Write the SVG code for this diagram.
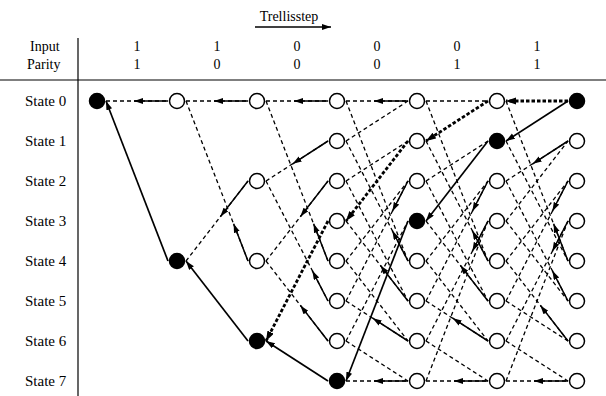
<svg xmlns="http://www.w3.org/2000/svg" width="606" height="396" viewBox="0 0 606 396" font-family="Liberation Serif, Times New Roman, serif">
<style>
text{font-family:"Liberation Serif","Times New Roman",serif;fill:#000}
.lbl{font-size:15px}
.hd{font-size:14px}
.dig{font-size:14px;text-anchor:middle}
.d{stroke:#000;stroke-width:1.3;stroke-dasharray:4 3;fill:none}
.s{stroke:#000;stroke-width:1.5;fill:none;marker-end:url(#ah)}
.p{stroke:#000;stroke-width:1.7;fill:none;marker-end:url(#ah)}
.t{stroke:#000;stroke-width:2.8;stroke-dasharray:3.5 2;fill:none;marker-end:url(#ahb)}
.o{fill:#fff;stroke:#000;stroke-width:1.5}
.f{fill:#000;stroke:#000;stroke-width:1.5}
.rule{stroke:#000;stroke-width:1.2}
</style>
<defs>
<marker id="ah" markerUnits="userSpaceOnUse" markerWidth="10" markerHeight="7" refX="9" refY="3" orient="auto"><path d="M0,0 L9,3 L0,6 z" fill="#000"/></marker>
<marker id="ahb" markerUnits="userSpaceOnUse" markerWidth="11" markerHeight="8" refX="10" refY="3.5" orient="auto"><path d="M0,0 L10,3.5 L0,7 z" fill="#000"/></marker>
</defs>
<g id="header">
<text x="289" y="21" class="hd" text-anchor="middle">Trellisstep</text>
<line x1="255" y1="27" x2="331" y2="27" class="s"/>
<text x="30" y="51" class="hd">Input</text>
<text x="27" y="69" class="hd">Parity</text>
<text x="137" y="51" class="dig">1</text><text x="217" y="51" class="dig">1</text><text x="297" y="51" class="dig">0</text><text x="377" y="51" class="dig">0</text><text x="457" y="51" class="dig">0</text><text x="537" y="51" class="dig">1</text>
<text x="137" y="69" class="dig">1</text><text x="217" y="69" class="dig">0</text><text x="297" y="69" class="dig">0</text><text x="377" y="69" class="dig">0</text><text x="457" y="69" class="dig">1</text><text x="537" y="69" class="dig">1</text>
<line x1="0" y1="80" x2="606" y2="80" class="rule"/>
<line x1="78" y1="38" x2="78" y2="396" class="rule"/>
</g>
<g id="labels" class="lbl">
<text x="25" y="106">State 0</text>
<text x="25" y="146">State 1</text>
<text x="25" y="186">State 2</text>
<text x="25" y="226">State 3</text>
<text x="25" y="266">State 4</text>
<text x="25" y="306">State 5</text>
<text x="25" y="346">State 6</text>
<text x="25" y="386">State 7</text>
</g>
<g id="connectors">
<line class="d" x1="106" y1="101" x2="168" y2="101"/>
<line class="d" x1="186" y1="101" x2="248" y2="101"/>
<line class="d" x1="186" y1="101" x2="248" y2="261"/>
<line class="d" x1="186" y1="261" x2="248" y2="181"/>
<line class="d" x1="266" y1="101" x2="328" y2="101"/>
<line class="d" x1="266" y1="101" x2="328" y2="261"/>
<line class="d" x1="266" y1="181" x2="328" y2="141"/>
<line class="d" x1="266" y1="181" x2="328" y2="301"/>
<line class="d" x1="266" y1="261" x2="328" y2="181"/>
<line class="d" x1="266" y1="261" x2="328" y2="341"/>
<line class="d" x1="346" y1="101" x2="408" y2="101"/>
<line class="d" x1="346" y1="101" x2="408" y2="261"/>
<line class="d" x1="346" y1="141" x2="408" y2="101"/>
<line class="d" x1="346" y1="141" x2="408" y2="261"/>
<line class="d" x1="346" y1="181" x2="408" y2="141"/>
<line class="d" x1="346" y1="181" x2="408" y2="301"/>
<line class="d" x1="346" y1="221" x2="408" y2="301"/>
<line class="d" x1="346" y1="261" x2="408" y2="181"/>
<line class="d" x1="346" y1="261" x2="408" y2="341"/>
<line class="d" x1="346" y1="301" x2="408" y2="181"/>
<line class="d" x1="346" y1="301" x2="408" y2="341"/>
<line class="d" x1="346" y1="341" x2="408" y2="221"/>
<line class="d" x1="346" y1="341" x2="408" y2="381"/>
<line class="d" x1="346" y1="381" x2="408" y2="381"/>
<line class="d" x1="426" y1="101" x2="488" y2="101"/>
<line class="d" x1="426" y1="101" x2="488" y2="261"/>
<line class="d" x1="426" y1="141" x2="488" y2="261"/>
<line class="d" x1="426" y1="181" x2="488" y2="141"/>
<line class="d" x1="426" y1="181" x2="488" y2="301"/>
<line class="d" x1="426" y1="221" x2="488" y2="301"/>
<line class="d" x1="426" y1="261" x2="488" y2="181"/>
<line class="d" x1="426" y1="261" x2="488" y2="341"/>
<line class="d" x1="426" y1="301" x2="488" y2="181"/>
<line class="d" x1="426" y1="301" x2="488" y2="341"/>
<line class="d" x1="426" y1="341" x2="488" y2="221"/>
<line class="d" x1="426" y1="341" x2="488" y2="381"/>
<line class="d" x1="426" y1="381" x2="488" y2="221"/>
<line class="d" x1="426" y1="381" x2="488" y2="381"/>
<line class="d" x1="506" y1="101" x2="568" y2="261"/>
<line class="d" x1="506" y1="141" x2="568" y2="261"/>
<line class="d" x1="506" y1="181" x2="568" y2="141"/>
<line class="d" x1="506" y1="181" x2="568" y2="301"/>
<line class="d" x1="506" y1="221" x2="568" y2="141"/>
<line class="d" x1="506" y1="221" x2="568" y2="301"/>
<line class="d" x1="506" y1="261" x2="568" y2="181"/>
<line class="d" x1="506" y1="261" x2="568" y2="341"/>
<line class="d" x1="506" y1="301" x2="568" y2="181"/>
<line class="d" x1="506" y1="301" x2="568" y2="341"/>
<line class="d" x1="506" y1="341" x2="568" y2="221"/>
<line class="d" x1="506" y1="341" x2="568" y2="381"/>
<line class="d" x1="506" y1="381" x2="568" y2="221"/>
<line class="d" x1="506" y1="381" x2="568" y2="381"/>
<line class="s" x1="168" y1="101" x2="134" y2="101"/>
<line class="s" x1="248" y1="101" x2="214" y2="101"/>
<line class="s" x1="248" y1="181" x2="220.4" y2="216.6"/>
<line class="s" x1="248" y1="261" x2="233.6" y2="223.7"/>
<line class="s" x1="328" y1="101" x2="294" y2="101"/>
<line class="s" x1="328" y1="141" x2="292.7" y2="163.8"/>
<line class="s" x1="328" y1="181" x2="300.4" y2="216.6"/>
<line class="s" x1="328" y1="261" x2="313.6" y2="223.7"/>
<line class="s" x1="328" y1="301" x2="312.4" y2="270.8"/>
<line class="s" x1="328" y1="341" x2="300.4" y2="305.4"/>
<line class="s" x1="408" y1="101" x2="374" y2="101"/>
<line class="s" x1="408" y1="181" x2="392.4" y2="211.2"/>
<line class="s" x1="408" y1="261" x2="392.4" y2="230.8"/>
<line class="s" x1="408" y1="301" x2="380.4" y2="265.4"/>
<line class="s" x1="408" y1="341" x2="372.7" y2="318.2"/>
<line class="s" x1="408" y1="381" x2="374" y2="381"/>
<line class="s" x1="488" y1="181" x2="472.4" y2="211.2"/>
<line class="s" x1="488" y1="221" x2="472.4" y2="251.2"/>
<line class="s" x1="488" y1="261" x2="472.4" y2="230.8"/>
<line class="s" x1="488" y1="301" x2="460.4" y2="265.4"/>
<line class="s" x1="488" y1="341" x2="452.7" y2="318.2"/>
<line class="s" x1="488" y1="381" x2="454" y2="381"/>
<line class="s" x1="568" y1="141" x2="532.7" y2="163.8"/>
<line class="s" x1="568" y1="181" x2="552.4" y2="211.2"/>
<line class="s" x1="568" y1="221" x2="552.4" y2="251.2"/>
<line class="s" x1="568" y1="261" x2="553.6" y2="223.7"/>
<line class="s" x1="568" y1="301" x2="552.4" y2="270.8"/>
<line class="s" x1="568" y1="341" x2="540.4" y2="305.4"/>
<line class="s" x1="568" y1="381" x2="534" y2="381"/>
<line class="p" x1="168" y1="261" x2="106" y2="101"/>
<line class="p" x1="248" y1="341" x2="186" y2="261"/>
<line class="p" x1="328" y1="381" x2="266" y2="341"/>
<line class="p" x1="408" y1="221" x2="346" y2="381"/>
<line class="p" x1="488" y1="141" x2="426" y2="221"/>
<line class="p" x1="568" y1="101" x2="506" y2="141"/>
<line class="t" x1="328" y1="221" x2="266" y2="341"/>
<line class="t" x1="408" y1="141" x2="346" y2="221"/>
<line class="t" x1="488" y1="101" x2="426" y2="141"/>
<line class="t" x1="568" y1="101" x2="506" y2="101"/>
</g>
<g id="nodes">
<g id="n0-0"><circle class="f" cx="97" cy="101" r="7.5"/></g>
<g id="n1-0"><circle class="o" cx="177" cy="101" r="7.5"/></g>
<g id="n1-4"><circle class="f" cx="177" cy="261" r="7.5"/></g>
<g id="n2-0"><circle class="o" cx="257" cy="101" r="7.5"/></g>
<g id="n2-2"><circle class="o" cx="257" cy="181" r="7.5"/></g>
<g id="n2-4"><circle class="o" cx="257" cy="261" r="7.5"/></g>
<g id="n2-6"><circle class="f" cx="257" cy="341" r="7.5"/></g>
<g id="n3-0"><circle class="o" cx="337" cy="101" r="7.5"/></g>
<g id="n3-1"><circle class="o" cx="337" cy="141" r="7.5"/></g>
<g id="n3-2"><circle class="o" cx="337" cy="181" r="7.5"/></g>
<g id="n3-3"><circle class="o" cx="337" cy="221" r="7.5"/></g>
<g id="n3-4"><circle class="o" cx="337" cy="261" r="7.5"/></g>
<g id="n3-5"><circle class="o" cx="337" cy="301" r="7.5"/></g>
<g id="n3-6"><circle class="o" cx="337" cy="341" r="7.5"/></g>
<g id="n3-7"><circle class="f" cx="337" cy="381" r="7.5"/></g>
<g id="n4-0"><circle class="o" cx="417" cy="101" r="7.5"/></g>
<g id="n4-1"><circle class="o" cx="417" cy="141" r="7.5"/></g>
<g id="n4-2"><circle class="o" cx="417" cy="181" r="7.5"/></g>
<g id="n4-3"><circle class="f" cx="417" cy="221" r="7.5"/></g>
<g id="n4-4"><circle class="o" cx="417" cy="261" r="7.5"/></g>
<g id="n4-5"><circle class="o" cx="417" cy="301" r="7.5"/></g>
<g id="n4-6"><circle class="o" cx="417" cy="341" r="7.5"/></g>
<g id="n4-7"><circle class="o" cx="417" cy="381" r="7.5"/></g>
<g id="n5-0"><circle class="o" cx="497" cy="101" r="7.5"/></g>
<g id="n5-1"><circle class="f" cx="497" cy="141" r="7.5"/></g>
<g id="n5-2"><circle class="o" cx="497" cy="181" r="7.5"/></g>
<g id="n5-3"><circle class="o" cx="497" cy="221" r="7.5"/></g>
<g id="n5-4"><circle class="o" cx="497" cy="261" r="7.5"/></g>
<g id="n5-5"><circle class="o" cx="497" cy="301" r="7.5"/></g>
<g id="n5-6"><circle class="o" cx="497" cy="341" r="7.5"/></g>
<g id="n5-7"><circle class="o" cx="497" cy="381" r="7.5"/></g>
<g id="n6-0"><circle class="f" cx="577" cy="101" r="7.5"/></g>
<g id="n6-1"><circle class="o" cx="577" cy="141" r="7.5"/></g>
<g id="n6-2"><circle class="o" cx="577" cy="181" r="7.5"/></g>
<g id="n6-3"><circle class="o" cx="577" cy="221" r="7.5"/></g>
<g id="n6-4"><circle class="o" cx="577" cy="261" r="7.5"/></g>
<g id="n6-5"><circle class="o" cx="577" cy="301" r="7.5"/></g>
<g id="n6-6"><circle class="o" cx="577" cy="341" r="7.5"/></g>
<g id="n6-7"><circle class="o" cx="577" cy="381" r="7.5"/></g>
</g>
</svg>
